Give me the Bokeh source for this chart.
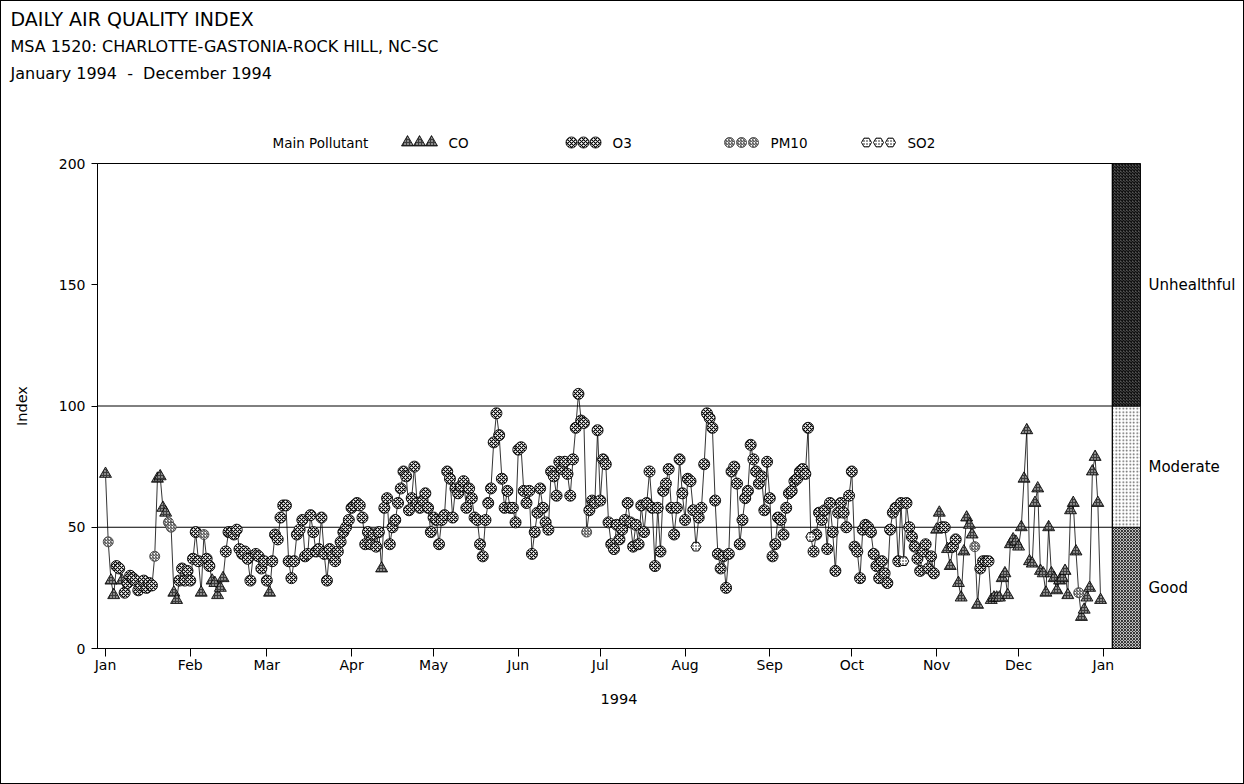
import numpy as np
import pandas as pd
from bokeh.plotting import figure
from bokeh.models import Range1d, FixedTicker, LinearAxis, Span, ColumnDataSource
from bokeh.layouts import column
from bokeh.core.properties import value
from bokeh.embed import file_html
from bokeh.resources import INLINE

# ---------------- data ----------------
jan = [72, 44, 28, 22, 34, 33, 28, 23, 27, 30, 29, 28, 24, 26, 28, 25, 27, 26, 38, 70,
       71, 58, 56, 52, 50, 23, 20, 28, 33, 28, 32]
feb = [28, 37, 48, 36, 23, 47, 37, 34, 28, 27, 22, 25, 29, 40, 48, 48, 47, 49, 41, 39,
       40, 37, 28, 38, 39, 38, 33, 36]
mar = [28, 23, 36, 47, 45, 54, 59, 59, 36, 29, 36, 47, 49, 53, 38, 39, 55, 48, 40, 41,
       54, 39, 28, 41, 38, 36, 40, 44, 48, 50, 53]
apr = [58, 59, 60, 59, 54, 43, 48, 43, 47, 42, 48, 33, 58, 62, 43, 50, 53, 60, 66, 73,
       71, 57, 62, 75, 60, 58, 61, 64, 58, 48]
may = [54, 53, 43, 53, 55, 73, 70, 54, 66, 64, 67, 69, 58, 66, 62, 54, 53, 43, 38, 53,
       60, 66, 85, 97, 88, 70, 58, 65, 58, 58, 52]
jun = [82, 83, 65, 60, 65, 39, 48, 56, 66, 58, 52, 49, 73, 71, 63, 77, 74, 77, 72, 63,
       78, 91, 105, 94, 93, 48, 57, 61, 60, 90]
jul = [61, 78, 76, 52, 43, 41, 51, 45, 49, 53, 60, 52, 42, 51, 43, 59, 48, 60, 73, 58,
       34, 58, 40, 65, 68, 74, 58, 47, 58, 78, 64]
aug = [53, 70, 69, 57, 42, 54, 58, 76, 97, 95, 91, 61, 39, 33, 38, 25, 39, 73, 75, 68,
       43, 53, 62, 65, 84, 78, 73, 68, 71, 57, 77]
sep = [62, 38, 43, 54, 53, 47, 58, 64, 65, 69, 70, 73, 74, 72, 91, 46, 40, 47, 56, 53,
       57, 41, 60, 48, 32, 56, 60, 56, 50, 63]
oct_ = [73, 42, 40, 29, 49, 51, 50, 48, 39, 34, 29, 36, 31, 27, 49, 56, 58, 36, 60, 36,
        60, 50, 46, 42, 37, 32, 40, 43, 33, 38, 31]
nov = [49, 56, 50, 50, 41, 34, 42, 45, 27, 21, 40, 54, 51, 47, 42, 18, 33, 36, 36, 36,
       20, 21, 21, 21, 29, 31, 22, 43, 45, 44]
dec = [42, 50, 70, 90, 36, 35, 60, 66, 32, 31, 23, 50, 31, 29, 24, 28, 29, 32, 22, 57,
       60, 40, 23, 13, 16, 21, 25, 73, 79, 60, 20]

# main pollutant per day: C=CO, O=O3, P=PM10, S=SO2
jan_c = "CPCCOOCOOO" "OOOOOOOOPC" "CCCPPCCOOO" "O"
feb_c = "OOOOCPOOCC" "CCCOOOOOOO" "OOOCOOOO"
mar_c = "OCOOOOOOOO" "OOOOOOOOOO" "OOOOOOOOOO" "O"
apr_c = "OOOOOOOOOO" "OCOOOOOOOO" "OOOOOOOOOO"
may_c = "OOOOOOOOOO" "OOOOOOOOOO" "OOOOOOOOOO" "O"
jun_c = "OOOOOOOOOO" "OOOOOOOOOO" "OOOOOPOOOO"
jul_c = "OOOOOOOOOO" "OOOOOOOOOO" "OOOOOOOOOO" "O"
aug_c = "OOOOSOOOOO" "OOOOOOOOOO" "OOOOOOOOOO" "O"
sep_c = "OOOOOOOOOO" "OOOOOSOOOO" "OOOOOOOOOO"
oct_c = "OOOOOOOOOO" "OOOOOOOOOS" "OOOOOOOOOO" "O"
nov_c = "CCOOCCOOCC" "CCCCPCOOOO" "CCCCCCCCCC"
dec_c = "CCCCCCCCCC" "CCCCCCCCCC" "CCPCCCCCCC" "C"

pollutant_names = {"C": "CO", "O": "O3", "P": "PM10", "S": "SO2"}
legend_order = ["CO", "O3", "PM10", "SO2"]
band_edges = [0, 50, 100, 200]
band_labels = ["Good", "Moderate", "Unhealthful"]
y_ticks = [0, 50, 100, 150, 200]

title1 = "DAILY AIR QUALITY INDEX"
title2 = "MSA 1520: CHARLOTTE-GASTONIA-ROCK HILL, NC-SC"
title3 = "January 1994\u00a0\u00a0-\u00a0\u00a0December 1994"
legend_title = "Main Pollutant"
x_title = "1994"
y_title = "Index"

# ---------------- assemble ----------------
index_values = jan + feb + mar + apr + may + jun + jul + aug + sep + oct_ + nov + dec
codes = jan_c + feb_c + mar_c + apr_c + may_c + jun_c + jul_c + aug_c + sep_c + oct_c + nov_c + dec_c
dates = pd.date_range("1994-01-01", "1994-12-31", freq="D")
day = np.asarray((dates - dates[0]).days)
n = min(len(day), len(index_values), len(codes))
day = day[:n]
index_values = index_values[:n]
names = [pollutant_names[c] for c in codes[:n]]

month_starts = pd.date_range("1994-01-01", "1995-01-01", freq="MS")
month_ticks = [int((d - dates[0]).days) for d in month_starts]
month_labels = [d.strftime("%b") for d in month_starts]

FONT = "DejaVu Sans"

STYLES = {
    "CO": dict(marker="triangle", size=12, fill_color="#3c3c3c", line_color="black",
               line_width=0.8, hatch_pattern="dot", hatch_color="white", hatch_scale=3,
               hatch_weight=1),
    "O3": dict(marker="circle", size=11, fill_color="white", line_color="black",
               line_width=0.9, hatch_pattern="diagonal_cross", hatch_color="black",
               hatch_scale=4, hatch_weight=1.1),
    "PM10": dict(marker="circle", size=10, fill_color="white", line_color="#333333",
                 line_width=0.8, hatch_pattern="right_diagonal_line", hatch_color="#333333",
                 hatch_scale=3, hatch_weight=1),
    "SO2": dict(marker="hex", size=10, fill_color="white", line_color="black",
                line_width=1, hatch_pattern="dot", hatch_color="black", hatch_scale=3,
                hatch_weight=1),
}

# ---------------- layout geometry (page pixels) ----------------
TOTAL_W, TOTAL_H = 1242, 782
HEADER_H = 150
BL, BR = 96, 103
FRAME_L, FRAME_R = 97, 1140


def no_align(fig):
    try:
        fig.frame_align = False
        return True
    except Exception:
        return False


# ---------------- header figure ----------------
h = figure(width=TOTAL_W, height=HEADER_H,
           x_range=Range1d(1, TOTAL_W + 1), y_range=Range1d(HEADER_H + 1, 1),
           output_backend="svg", toolbar_location=None,
           min_border=0, x_axis_type=None, y_axis_type=None)
aligned_off = no_align(h)
if not aligned_off:
    h.min_border_left, h.min_border_right = BL, BR
    h.x_range = Range1d(FRAME_L, FRAME_R)
h.outline_line_color = None
h.grid.visible = False
for txt, yy, fs in [(title1, 18, "19px"), (title2, 46, "16px"), (title3, 73, "16px")]:
    h.text(x=[10], y=[yy], text=[txt], text_font=value(FONT), text_font_size=fs,
           text_baseline="middle", text_color="black")
h.text(x=[272], y=[142], text=[legend_title], text_font=value(FONT), text_font_size="13.5px",
       text_baseline="middle", text_color="black")
legend_x0 = [407, 571, 729, 866]
for name, x0 in zip(legend_order, legend_x0):
    h.scatter(x=[x0, x0 + 12, x0 + 24], y=[142, 142, 142], **STYLES[name])
    h.text(x=[x0 + 41], y=[142], text=[name], text_font=value(FONT), text_font_size="13.5px",
           text_baseline="middle", text_color="black")

# ---------------- main figure ----------------
x_start, box_right, x_end = -2.93, 368.3, 378.6
MAIN_H = TOTAL_H - HEADER_H
p = figure(width=TOTAL_W, height=MAIN_H, x_range=Range1d(x_start, x_end),
           y_range=Range1d(band_edges[0], band_edges[-1]),
           output_backend="svg", toolbar_location=None,
           min_border_left=BL, min_border_right=BR,
           min_border_top=163 - 1 - HEADER_H, min_border_bottom=MAIN_H - (648 - 1 - HEADER_H))
no_align(p)
p.grid.visible = False
p.outline_line_color = "black"
p.outline_line_width = 1

for v in band_edges[1:-1]:
    p.add_layout(Span(location=v, dimension="width", line_color="black", line_width=1,
                      level="underlay"))
p.add_layout(Span(location=box_right, dimension="height", line_color="black", line_width=1))

band_styles = [
    dict(fill_color="white", hatch_pattern="diagonal_cross", hatch_color="#333333",
         hatch_scale=3, hatch_weight=1.2),
    dict(fill_color="white", hatch_pattern="dot", hatch_color="#555555",
         hatch_scale=3.5, hatch_weight=1),
    dict(fill_color="#555555", hatch_pattern="diagonal_cross", hatch_color="#111111",
         hatch_scale=3, hatch_weight=1.3),
]
for lo, hi, st in zip(band_edges[:-1], band_edges[1:], band_styles):
    p.quad(left=[box_right], right=[x_end], bottom=[lo], top=[hi], line_color="black",
           line_width=1, **st)

p.line(x=day, y=index_values, line_color="black", line_width=0.8)

src_all = pd.DataFrame({"day": day, "aqi": index_values, "pol": names})
for name in legend_order:
    sub = src_all[src_all["pol"] == name]
    if len(sub):
        p.scatter(x="day", y="aqi", source=ColumnDataSource(sub), **STYLES[name])

# axes
xa = p.xaxis[0]
xa.ticker = FixedTicker(ticks=month_ticks)
xa.major_label_overrides = {t: l for t, l in zip(month_ticks, month_labels)}
xa.minor_tick_line_color = None
xa.major_tick_out = 8
xa.major_tick_in = 0
xa.major_label_standoff = 0
xa.axis_label = x_title
xa.axis_label_standoff = 18
ya = p.yaxis[0]
ya.ticker = FixedTicker(ticks=y_ticks)
ya.minor_tick_line_color = None
ya.major_tick_out = 6
ya.major_tick_in = 0
ya.major_label_standoff = 6
ya.axis_label = y_title
ya.axis_label_standoff = 26
for ax in (xa, ya):
    ax.major_label_text_font = FONT
    ax.major_label_text_font_size = "14px"
    ax.major_label_text_color = "black"
    ax.axis_label_text_font = FONT
    ax.axis_label_text_font_size = "14.5px"
    ax.axis_label_text_font_style = "normal"
    ax.axis_label_text_color = "black"
    ax.axis_line_color = "black"
    ax.major_tick_line_color = "black"

band_mid = [(lo + hi) / 2 for lo, hi in zip(band_edges[:-1], band_edges[1:])]
ra = LinearAxis(ticker=FixedTicker(ticks=band_mid),
                major_label_overrides={m: l for m, l in zip(band_mid, band_labels)})
ra.axis_line_color = None
ra.major_tick_line_color = None
ra.minor_tick_line_color = None
ra.major_tick_out = 0
ra.major_tick_in = 0
ra.major_label_standoff = 8
ra.major_label_text_font = FONT
ra.major_label_text_font_size = "15px"
ra.major_label_text_color = "black"
p.add_layout(ra, "right")

layout = column(h, p, styles={"border": "1px solid black"})
open("out.html", "w").write(file_html(layout, INLINE))
